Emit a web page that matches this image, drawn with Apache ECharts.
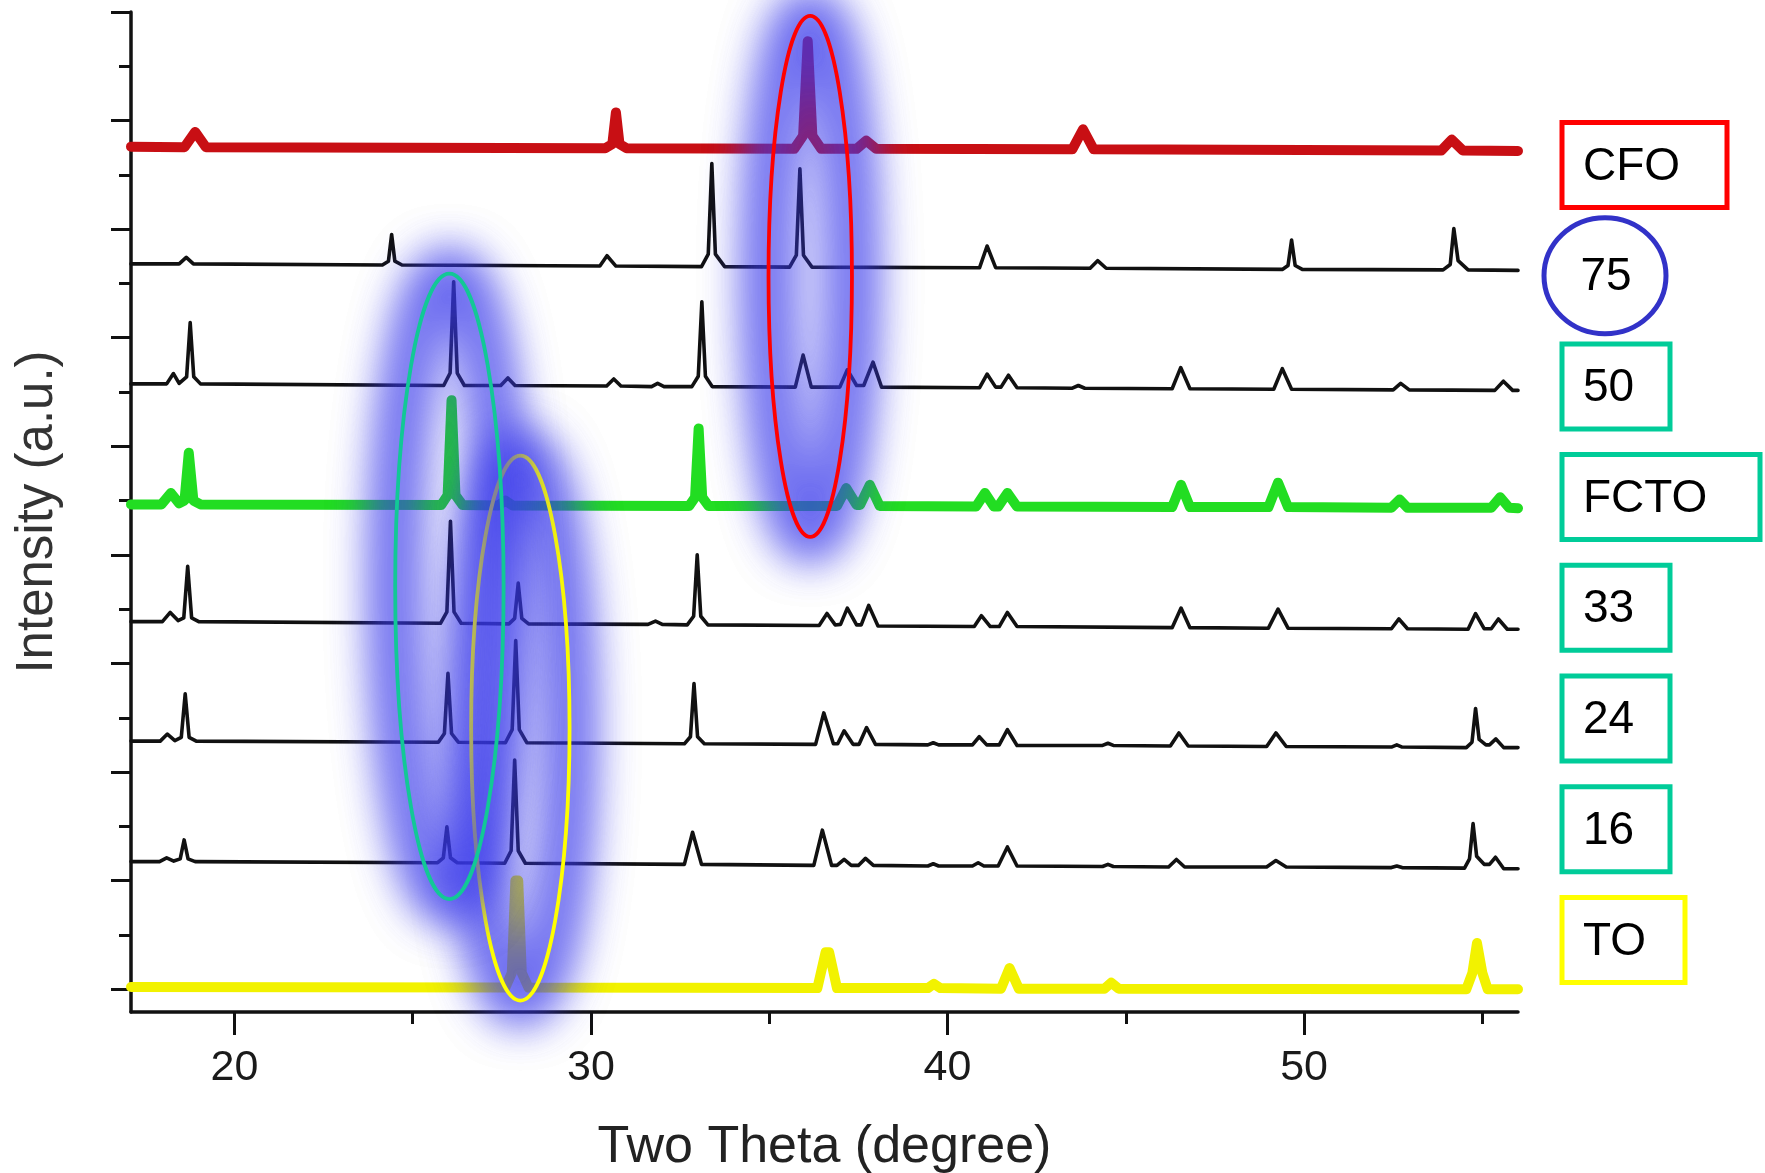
<!DOCTYPE html>
<html>
<head>
<meta charset="utf-8">
<script src="https://cdn.jsdelivr.net/npm/echarts@6/dist/echarts.min.js"></script>
<style>
html,body{margin:0;padding:0;background:#fff;}
#chart{width:1765px;height:1173px;}
</style>
</head>
<body>
<div id="chart"></div>
<script>
// ---------------- DATA (2-theta in degrees, intensity in a.u. with stacking offsets) ----------------
const seriesNames = ['CFO', '75', '50', 'FCTO', '33', '24', '16', 'TO'];

const xMajorTicks = [20, 30, 40, 50];
const xMinorTicks = [25, 35, 45, 55];
const yMajorTicks = [0, 2, 4, 6, 8, 10, 12, 14, 16, 18];
const yMinorTicks = [1, 3, 5, 7, 9, 11, 13, 15, 17];

const cfo = [[17.1,15.52],
 [18.6,15.51],[18.9,15.79],[19.2,15.51],
 [30.4,15.49],[30.6,15.57],[30.7,16.15],[30.8,15.57],[31.0,15.49],
 [35.7,15.48],[35.95,15.72],[36.08,17.46],[36.21,15.72],[36.46,15.48],
 [37.45,15.48],[37.72,15.63],[38.0,15.48],
 [43.5,15.47],[43.8,15.84],[44.1,15.47],
 [53.85,15.45],[54.14,15.65],[54.45,15.45],
 [56.0,15.44]];

const s75 = [[17.1,13.36],
 [18.45,13.36],[18.65,13.48],[18.85,13.36],
 [24.15,13.34],[24.32,13.41],[24.41,13.90],[24.5,13.41],[24.7,13.34],
 [30.25,13.32],[30.45,13.51],[30.7,13.32],
 [33.1,13.31],[33.29,13.54],[33.39,15.21],[33.49,13.54],[33.75,13.31],
 [35.57,13.30],[35.76,13.52],[35.86,15.11],[35.96,13.52],[36.2,13.30],
 [40.9,13.29],[41.11,13.69],[41.35,13.29],
 [44.0,13.28],[44.21,13.42],[44.45,13.28],
 [49.4,13.26],[49.55,13.33],[49.65,13.80],[49.75,13.33],[49.95,13.26],
 [53.9,13.25],[54.1,13.35],[54.2,14.01],[54.32,13.42],[54.6,13.25],
 [56.0,13.24]];

const s50 = [[17.1,11.15],
 [18.1,11.15],[18.29,11.34],[18.45,11.16],[18.66,11.28],[18.76,12.28],[18.86,11.28],[19.05,11.15],
 [25.87,11.12],[26.05,11.35],[26.15,13.03],[26.25,11.35],[26.45,11.12],
 [27.47,11.12],[27.67,11.26],[27.87,11.12],
 [30.44,11.11],[30.64,11.24],[30.84,11.11],
 [31.7,11.10],[31.87,11.16],[32.05,11.10],
 [32.83,11.10],[33.01,11.29],[33.11,12.66],[33.21,11.29],[33.4,11.10],
 [35.73,11.09],[35.95,11.68],[36.18,11.09],
 [36.98,11.09],[37.19,11.41],[37.45,11.12],[37.65,11.12],[37.91,11.55],[38.15,11.09],
 [40.9,11.08],[41.11,11.33],[41.35,11.09],[41.5,11.09],[41.71,11.31],[41.95,11.08],
 [43.5,11.07],[43.67,11.12],[43.85,11.07],
 [46.3,11.06],[46.54,11.45],[46.8,11.06],
 [49.15,11.05],[49.39,11.43],[49.65,11.05],
 [52.5,11.04],[52.71,11.16],[52.95,11.04],
 [55.35,11.03],[55.59,11.20],[55.85,11.03],
 [56.0,11.03]];

const fcto = [[17.1,8.93],
 [17.95,8.93],[18.22,9.14],[18.45,8.95],[18.6,9.0],[18.72,9.88],[18.85,9.0],[19.05,8.93],
 [25.8,8.92],[25.98,9.1],[26.09,10.85],[26.2,9.1],[26.4,8.92],
 [27.4,8.91],[27.6,9.0],[27.8,8.91],
 [32.75,8.9],[32.92,9.06],[33.02,10.33],[33.12,9.06],[33.3,8.9],
 [36.9,8.9],[37.16,9.23],[37.45,8.92],[37.55,8.92],[37.82,9.29],[38.1,8.9],
 [40.8,8.89],[41.05,9.14],[41.3,8.89],[41.42,8.89],[41.68,9.14],[41.95,8.89],
 [46.3,8.88],[46.55,9.29],[46.8,8.88],
 [49.0,8.88],[49.27,9.33],[49.55,8.88],
 [52.45,8.87],[52.68,9.02],[52.9,8.87],
 [55.25,8.87],[55.5,9.06],[55.75,8.87],
 [56.0,8.86]];

const s33 = [[17.1,6.77],
 [17.98,6.77],[18.2,6.94],[18.42,6.79],[18.58,6.84],[18.69,7.79],[18.8,6.84],[19.0,6.77],
 [25.78,6.74],[25.96,6.95],[26.06,8.62],[26.16,6.95],[26.36,6.74],
 [27.7,6.73],[27.86,6.83],[27.96,7.48],[28.06,6.83],[28.25,6.73],
 [31.6,6.72],[31.81,6.78],[32.0,6.72],
 [32.7,6.71],[32.88,6.87],[32.98,8.0],[33.08,6.87],[33.28,6.71],
 [36.4,6.7],[36.62,6.92],[36.85,6.71],[37.0,6.72],[37.19,7.02],[37.45,6.71],[37.58,6.71],[37.79,7.07],[38.05,6.69],
 [40.75,6.68],[40.95,6.88],[41.2,6.68],[41.45,6.68],[41.68,6.94],[41.95,6.68],
 [46.3,6.66],[46.55,7.02],[46.8,6.66],
 [49.0,6.65],[49.27,7.0],[49.55,6.65],
 [52.45,6.64],[52.66,6.82],[52.9,6.64],
 [54.6,6.63],[54.81,6.92],[55.05,6.64],[55.25,6.64],[55.45,6.82],[55.7,6.63],
 [56.0,6.63]];

const s24 = [[17.1,4.57],
 [17.92,4.57],[18.12,4.70],[18.33,4.58],[18.51,4.64],[18.62,5.44],[18.73,4.64],[18.93,4.57],
 [25.72,4.55],[25.89,4.71],[25.99,5.82],[26.09,4.71],[26.28,4.55],
 [27.6,4.54],[27.79,4.78],[27.89,6.42],[27.99,4.78],[28.2,4.54],
 [32.62,4.52],[32.79,4.65],[32.89,5.63],[32.99,4.65],[33.18,4.52],
 [36.3,4.51],[36.53,5.09],[36.8,4.52],[36.92,4.52],[37.1,4.76],[37.35,4.51],[37.52,4.51],[37.73,4.82],[37.98,4.51],
 [39.45,4.5],[39.6,4.54],[39.75,4.5],
 [40.7,4.5],[40.89,4.65],[41.1,4.5],[41.45,4.5],[41.68,4.78],[41.95,4.49],
 [44.35,4.49],[44.5,4.53],[44.65,4.49],
 [46.25,4.48],[46.49,4.72],[46.75,4.48],
 [48.95,4.47],[49.21,4.72],[49.5,4.47],
 [52.45,4.46],[52.6,4.5],[52.75,4.46],
 [54.55,4.45],[54.71,4.55],[54.81,5.17],[54.91,4.6],[55.1,4.5],[55.2,4.5],[55.38,4.61],[55.6,4.45],
 [56.0,4.45]];

const s16 = [[17.1,2.35],
 [17.9,2.35],[18.1,2.42],[18.3,2.36],[18.48,2.4],[18.59,2.75],[18.7,2.4],[18.9,2.35],
 [25.7,2.33],[25.86,2.42],[25.96,2.99],[26.06,2.42],[26.25,2.33],
 [27.58,2.32],[27.76,2.55],[27.86,4.22],[27.96,2.55],[28.16,2.32],
 [32.62,2.3],[32.85,2.89],[33.1,2.3],
 [36.25,2.28],[36.49,2.93],[36.75,2.28],[36.9,2.28],[37.1,2.39],[37.3,2.28],[37.5,2.28],[37.7,2.41],[37.92,2.28],
 [39.45,2.27],[39.6,2.31],[39.75,2.27],
 [40.7,2.27],[40.86,2.33],[41.02,2.27],[41.42,2.27],[41.68,2.62],[41.95,2.27],
 [44.35,2.26],[44.5,2.3],[44.65,2.26],
 [46.2,2.25],[46.42,2.39],[46.65,2.25],
 [48.95,2.25],[49.21,2.37],[49.5,2.25],
 [52.45,2.24],[52.6,2.27],[52.75,2.24],
 [54.5,2.23],[54.64,2.4],[54.74,3.05],[54.84,2.45],[55.05,2.3],[55.2,2.3],[55.37,2.43],[55.6,2.22],
 [56.0,2.22]];

const to = [[17.1,0.04],
 [27.6,0.03],[27.78,0.3],[27.88,2.0],[27.96,2.0],[28.06,0.3],[28.25,0.03],
 [36.35,0.02],[36.58,0.68],[36.68,0.68],[36.9,0.02],
 [39.45,0.02],[39.62,0.1],[39.8,0.02],
 [41.5,0.01],[41.74,0.39],[42.0,0.01],
 [44.4,0.01],[44.59,0.12],[44.8,0.01],
 [54.55,0.0],[54.72,0.3],[54.85,0.85],[55.0,0.3],[55.15,0.0],
 [56.0,0.0]];

// Highlight ellipses in data coordinates: centre (2θ, a.u.), half-width (deg), half-height (a.u.)
const highlightCentres = [[28.02, 4.81], [26.03, 7.42], [36.15, 13.13]];
const highlightRadii   = [[1.38, 5.02], [1.52, 5.76], [1.17, 4.8]];

// ---------------- STYLE ----------------
const seriesData = [cfo, s75, s50, fcto, s33, s24, s16, to];
const lineColors = ['#c80f14', '#111111', '#111111', '#22dd22', '#111111', '#111111', '#111111', '#f2f200'];
const lineWidths = [10, 3.6, 3.6, 10, 3.6, 3.6, 3.6, 10];
const outlineColors = ['#ffff00', '#12c896', '#ff0000'];
const labelBorder = ['#ff0000', '#3232c8', '#00cc99', '#00cc99', '#00cc99', '#00cc99', '#00cc99', '#ffff00'];
const labelWidths = [170, 0, 113, 203, 113, 113, 113, 128];
const FONT = '"Liberation Sans", Arial, Helvetica, sans-serif';

const chart = echarts.init(document.getElementById('chart'), null, {renderer: 'canvas'});

const axisCommon = {
  min: 17.1, max: 56.0, type: 'value', splitLine: {show: false}
};

const option = {
  backgroundColor: '#ffffff',
  animation: false,
  grid: {left: 131, right: 247, top: 12, bottom: 161, containLabel: false, outerBoundsMode: 'none'},
  xAxis: [
    Object.assign({}, axisCommon, {
      position: 'bottom',
      name: 'Two Theta (degree)', nameLocation: 'middle', nameGap: 110,
      nameTextStyle: {fontSize: 52, fontFamily: FONT, color: '#222'},
      axisLine: {show: true, onZero: false, lineStyle: {color: '#111', width: 3.5}},
      axisTick: {show: true, inside: false, length: 23, lineStyle: {color: '#111', width: 3}, customValues: xMajorTicks},
      axisLabel: {show: true, fontSize: 43, fontFamily: FONT, color: '#1a1a1a', margin: 35, customValues: xMajorTicks}
    }),
    Object.assign({}, axisCommon, {
      position: 'bottom',
      axisLine: {show: false, onZero: false},
      axisTick: {show: true, length: 12, lineStyle: {color: '#111', width: 3}, customValues: xMinorTicks},
      axisLabel: {show: false}
    })
  ],
  yAxis: [
    {
      type: 'value', min: -0.42, max: 18, position: 'left',
      name: 'Intensity (a.u.)', nameLocation: 'middle', nameGap: 68,
      nameTextStyle: {fontSize: 51, fontFamily: FONT, color: '#333'},
      splitLine: {show: false},
      axisLine: {show: true, onZero: false, lineStyle: {color: '#111', width: 3.5}},
      axisTick: {show: true, length: 20, lineStyle: {color: '#111', width: 3}, customValues: yMajorTicks},
      axisLabel: {show: false}
    },
    {
      type: 'value', min: -0.42, max: 18, position: 'left',
      splitLine: {show: false},
      axisLine: {show: false, onZero: false},
      axisTick: {show: true, length: 12, lineStyle: {color: '#111', width: 3}, customValues: yMinorTicks},
      axisLabel: {show: false}
    }
  ],
  series: seriesData.map((d, i) => ({
    name: seriesNames[i],
    type: 'line',
    data: d,
    xAxisIndex: 0, yAxisIndex: 0,
    showSymbol: false, symbol: 'none',
    clip: true,
    z: 2 + (lineWidths[i] > 4 ? 0 : 1),
    lineStyle: {color: lineColors[i], width: lineWidths[i], join: 'round', cap: 'round'},
    emphasis: {disabled: true}
  }))
};

chart.setOption(option);

// ---------------- annotations positioned via the chart's own scales ----------------
const graphics = [];
const OFF = 4000;
highlightCentres.forEach((c, i) => {
  const p = chart.convertToPixel({gridIndex: 0}, c);
  const px = chart.convertToPixel({gridIndex: 0}, [c[0] + highlightRadii[i][0], c[1] + highlightRadii[i][1]]);
  const rx = Math.abs(px[0] - p[0]);
  const ry = Math.abs(p[1] - px[1]);
  // blurred blue glow (only the shadow is visible), drawn twice for density
  for (let k = 0; k < 2; k++) {
    graphics.push({
      type: 'ellipse', silent: true, z: 50 + i * 2,
      shape: {cx: p[0] + OFF, cy: p[1], rx: rx, ry: ry},
      style: {fill: null, stroke: '#3c3ceb', lineWidth: 48,
              shadowBlur: 40, shadowColor: 'rgba(58,58,235,0.5)', shadowOffsetX: -OFF, shadowOffsetY: 0}
    });
  }
  graphics.push({
    type: 'ellipse', silent: true, z: 51 + i * 2,
    shape: {cx: p[0], cy: p[1], rx: rx, ry: ry},
    style: {fill: null, stroke: outlineColors[i], lineWidth: 3.8}
  });
});

// sample labels on the right
seriesNames.forEach((name, i) => {
  const top = 120 + 110.7 * i;
  const boxLeft = 1562;
  if (labelWidths[i] === 0) {
    graphics.push({
      type: 'ellipse', silent: true, z: 60,
      shape: {cx: 1605, cy: top + 45, rx: 61, ry: 58},
      style: {fill: '#fff', stroke: labelBorder[i], lineWidth: 5}
    });
    graphics.push({
      type: 'text', silent: true, z: 61,
      style: {text: name, x: 1606, y: top + 47, align: 'center', verticalAlign: 'middle',
              fontSize: 46, fontFamily: FONT, fill: '#000'}
    });
  } else {
    graphics.push({
      type: 'rect', silent: true, z: 60,
      shape: {x: boxLeft, y: top + 2.5, width: labelWidths[i] - 5, height: 85},
      style: {fill: '#fff', stroke: labelBorder[i], lineWidth: 5}
    });
    graphics.push({
      type: 'text', silent: true, z: 61,
      style: {text: name, x: 1583, y: top + 47, align: 'left', verticalAlign: 'middle',
              fontSize: 46, fontFamily: FONT, fill: '#000'}
    });
  }
});

chart.setOption({graphic: {elements: graphics}});
</script>
</body>
</html>
